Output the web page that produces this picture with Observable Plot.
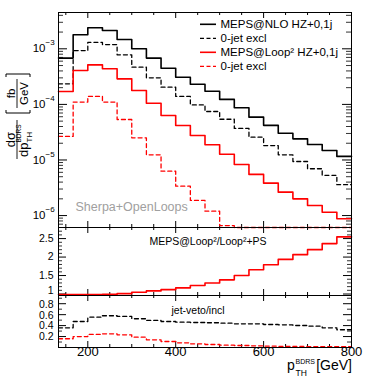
<!DOCTYPE html>
<html><head><meta charset="utf-8">
<script src="https://cdn.jsdelivr.net/npm/d3@7"></script>
<script src="https://cdn.jsdelivr.net/npm/@observablehq/plot@0.6"></script>
<style>
body{margin:0;background:#fff;}
#wrap{position:relative;width:391px;height:379px;overflow:hidden;font-family:"Liberation Sans",Arial,Helvetica,sans-serif;}
#wrap svg{position:absolute;left:0;}
</style></head><body><div id="wrap"></div>
<script>
// ---- data ----
const binEdges = [133.33,166.67,200,233.33,266.67,300,333.33,366.67,400,433.33,466.67,500,533.33,566.67,600,633.33,666.67,700,733.33,766.67,800];
const mepsNLO   = [6.8e-4,1.79e-3,2.39e-3,2.13e-3,1.47e-3,1.0e-3,6.8e-4,4.48e-4,3.08e-4,2.3e-4,1.72e-4,1.23e-4,8.7e-5,5.9e-5,4.2e-5,3.03e-5,2.4e-5,1.9e-5,1.48e-5,1.16e-5];
const nloVeto   = [2.34e-4,9.3e-4,1.31e-3,1.19e-3,7.8e-4,4.67e-4,3.0e-4,2.04e-4,1.39e-4,9.8e-5,7.45e-5,5.4e-5,3.69e-5,2.57e-5,1.82e-5,1.24e-5,9.4e-6,6.95e-6,5.3e-6,3.6e-6];
const mepsLoop2 = [1.71e-4,4.07e-4,5.15e-4,4.37e-4,2.88e-4,1.78e-4,1.05e-4,6.3e-5,4.18e-5,2.76e-5,1.88e-5,1.27e-5,8.3e-6,5.5e-6,3.83e-6,2.64e-6,2.0e-6,1.52e-6,1.15e-6,8.75e-7];
const loop2Veto = [2.65e-5,1.1e-4,1.39e-4,1.1e-4,5.35e-5,2.5e-5,1.24e-5,6.3e-6,3.38e-6,1.87e-6,1.2e-6,6.6e-7,3.1e-7,1.7e-7,9e-8,5.3e-8,3.6e-8,2.4e-8,1.7e-8,1.2e-8];
const ratioLoop2PS = [0.985,0.985,0.985,0.99,1.01,1.046,1.084,1.12,1.166,1.23,1.30,1.384,1.50,1.657,1.793,1.937,2.065,2.20,2.365,2.545];
const vetoFracNLO   = [0.36,0.475,0.554,0.58,0.567,0.525,0.494,0.475,0.463,0.457,0.452,0.444,0.433,0.433,0.42,0.415,0.402,0.39,0.36,0.324];
const vetoFracLoop2 = [0.16,0.20,0.238,0.25,0.232,0.188,0.14,0.11,0.086,0.068,0.055,0.042,0.037,0.031,0.024,0.02,0.018,0.016,0.015,0.014];
const xTicks = [200,400,600,800];
const xTickLabels = ["200","400","600","800"];
const logTicks = [1e-6,1e-5,1e-4,1e-3];
const logTickExp = ["\u22126","\u22125","\u22124","\u22123"];
const midTicks = [1,1.5,2,2.5];
const midTickLabels = ["1","1.5","2","2.5"];
const botTicks = [0.2,0.4,0.6,0.8];
const botTickLabels = ["0.2","0.4","0.6","0.8"];
const legendLabels = ["MEPS@NLO HZ+0,1j","0-jet excl","MEPS@Loop\u00B2 HZ+0,1j","0-jet excl"];
const legendColors = ["black","black","red","red"];
const legendDashed = [false,true,false,true];

// ---- layout ----
const W = 391, ML = 58, MR = 40, PW = W - ML - MR;
const FONT = '"Liberation Sans", Arial, Helvetica, sans-serif';
const xDomain = [binEdges[0], binEdges[binEdges.length-1]];
const wrap = document.getElementById("wrap");

function steps(vals){ return binEdges.map((x,i)=>({x, y: vals[Math.min(i, vals.length-1)]})); }
function histLine(vals, color, dashed){
  return Plot.line(steps(vals), {x:"x", y:"y", curve:"step-after", stroke:color,
    strokeWidth: dashed ? 1.3 : 1.6, strokeDasharray: dashed ? "4,3" : null});
}
const xMinor = d3.range(150, 800, 50).filter(v => !xTicks.includes(v));
function xTickMarks(PH){
  return [
    Plot.tickX(xTicks, {x: d => d, insetTop: PH-6, stroke:"black"}),
    Plot.tickX(xTicks, {x: d => d, insetBottom: PH-6, stroke:"black"}),
    Plot.tickX(xMinor, {x: d => d, insetTop: PH-3, stroke:"black"}),
    Plot.tickX(xMinor, {x: d => d, insetBottom: PH-3, stroke:"black"})
  ];
}
function yTickMarks(major, minor, lMaj, lMin){
  return [
    Plot.tickY(major, {y: d => d, insetRight: PW-lMaj, stroke:"black"}),
    Plot.tickY(major, {y: d => d, insetLeft: PW-lMaj, stroke:"black"}),
    Plot.tickY(minor, {y: d => d, insetRight: PW-lMin, stroke:"#333"}),
    Plot.tickY(minor, {y: d => d, insetLeft: PW-lMin, stroke:"#333"})
  ];
}
function place(svg, top){ svg.style.top = top + "px"; wrap.appendChild(svg); }
const style = {background:"transparent", fontFamily: FONT, overflow:"visible"};

// ---- main panel ----
const yDomMain = [6.1e-7, 4.5e-3];
const logMinor = d3.scaleLog().domain(yDomMain).ticks().filter(v => !logTicks.some(t => Math.abs(t-v)/t < 1e-6));
const mainH = 232, mainPH = 215;
const main = Plot.plot({
  width: W, height: mainH, marginLeft: ML, marginRight: MR, marginTop: 12, marginBottom: 5,
  style,
  x: {domain: xDomain, axis: null},
  y: {type: "log", domain: yDomMain, clamp: true, axis: null},
  marks: [
    ...yTickMarks(logTicks, logMinor, 9, 5),
    ...xTickMarks(mainPH),
    histLine(mepsNLO, "black", false),
    histLine(nloVeto, "black", true),
    histLine(mepsLoop2, "#ff0000", false),
    histLine(loop2Veto, "#ff0000", true),
    Plot.text(logTicks, {y: d => d, text: () => "10", frameAnchor: "left", textAnchor: "end", dx: -13, fontSize: 11.5, fill: "black"}),
    Plot.text(logTicks, {y: d => d, text: (d,i) => logTickExp[i], frameAnchor: "left", textAnchor: "start", dx: -13, dy: -6, fontSize: 8, fill: "black"}),
    Plot.text(["Sherpa+OpenLoops"], {frameAnchor: "bottom-left", textAnchor: "start", dx: 17, dy: -17, fontSize: 12.5, fill: "#a0a0a0"}),
    Plot.frame({stroke: "black", strokeWidth: 1})
  ]
});
place(main, 0);

// ---- ratio panel ----
const midH = 78, midPH = 68;
const midMinor = d3.range(1, 2.8, 0.1).map(v => +v.toFixed(2)).filter(v => !midTicks.includes(v));
const mid = Plot.plot({
  width: W, height: midH, marginLeft: ML, marginRight: MR, marginTop: 5, marginBottom: 5,
  style,
  x: {domain: xDomain, axis: null},
  y: {domain: [0.96, 2.8], axis: null},
  marks: [
    ...yTickMarks(midTicks, midMinor, 8, 4),
    ...xTickMarks(midPH),
    histLine(ratioLoop2PS, "#ff0000", false),
    Plot.text(midTicks.slice(1), {y: d => d, text: (d,i) => midTickLabels[i+1], frameAnchor: "left", textAnchor: "end", dx: -5, fontSize: 10.5, fill: "black"}),
    Plot.text(midTicks.slice(0,1), {y: d => d, text: () => midTickLabels[0], frameAnchor: "left", textAnchor: "end", dx: -5, dy: -3, fontSize: 10.5, fill: "black"}),
    Plot.text(["MEPS@Loop\u00B2/Loop\u00B2+PS"], {frameAnchor: "top", dx: 3, dy: 10, fontSize: 10.5, fill: "black"}),
    Plot.frame({stroke: "black", strokeWidth: 1})
  ]
});
place(mid, 222);

// ---- jet-veto panel ----
const botH = 89, botPH = 52;
const botMinor = d3.range(0.1, 0.95, 0.1).map(v => +v.toFixed(2)).filter(v => !botTicks.includes(v));
const bot = Plot.plot({
  width: W, height: botH, marginLeft: ML, marginRight: MR, marginTop: 5, marginBottom: 32,
  style,
  x: {domain: xDomain, axis: null},
  y: {domain: [0, 0.95], axis: null},
  marks: [
    ...yTickMarks(botTicks, botMinor, 8, 4),
    ...xTickMarks(botPH),
    histLine(vetoFracNLO, "black", true),
    histLine(vetoFracLoop2, "#ff0000", true),
    Plot.text(botTicks, {y: d => d, text: (d,i) => botTickLabels[i], frameAnchor: "left", textAnchor: "end", dx: -5, dy: 0.5, fontSize: 10.5, fill: "black"}),
    Plot.text(["jet-veto/incl"], {frameAnchor: "top", dx: -7, dy: 11.5, fontSize: 10.5, fill: "black"}),
    Plot.text(xTicks, {x: d => d, text: (d,i) => xTickLabels[i], frameAnchor: "bottom", dy: 8, fontSize: 13, fill: "black"}),
    Plot.frame({stroke: "black", strokeWidth: 1})
  ]
});
place(bot, 290);

// ---- overlay: legend and axis titles ----
const ov = d3.select(wrap).append("svg").attr("width", W).attr("height", 379)
  .style("top", "0px").style("font-family", FONT).style("pointer-events", "none");

legendLabels.forEach((lab, i) => {
  const y = 24.3 + i * 14;
  ov.append("line").attr("x1", 200).attr("x2", 216).attr("y1", y).attr("y2", y)
    .attr("stroke", legendColors[i]).attr("stroke-width", legendDashed[i] ? 1.3 : 1.6)
    .attr("stroke-dasharray", legendDashed[i] ? "4,2.5" : null);
  ov.append("text").attr("x", 220.5).attr("y", y).attr("dy", "0.35em")
    .attr("font-size", 11.5).attr("fill", "black").text(lab);
});

// x title
ov.append("text").attr("x", 287).attr("y", 369.5).attr("font-size", 14).text("p");
ov.append("text").attr("x", 295.5).attr("y", 363.5).attr("font-size", 7).text("BDRS");
ov.append("text").attr("x", 295.5).attr("y", 375.5).attr("font-size", 8.5).text("TH");
ov.append("text").attr("x", 352).attr("y", 369.5).attr("font-size", 14).attr("text-anchor", "end").text("[GeV]");

// y title (rotated)
const g = ov.append("g").attr("transform", "translate(17,117) rotate(-90)");
g.append("line").attr("x1", -42).attr("x2", -3).attr("y1", 0).attr("y2", 0).attr("stroke", "black").attr("stroke-width", 0.9);
g.append("text").attr("x", -22.5).attr("y", -2.5).attr("font-size", 13).attr("text-anchor", "middle").text("d\u03C3");
g.append("text").attr("x", -40).attr("y", 10.5).attr("font-size", 13).text("dp");
g.append("text").attr("x", -25.5).attr("y", 3.5).attr("font-size", 6.5).text("BDRS");
g.append("text").attr("x", -25.5).attr("y", 14.5).attr("font-size", 8).text("TH");
g.append("line").attr("x1", 9).attr("x2", 38).attr("y1", 0).attr("y2", 0).attr("stroke", "black").attr("stroke-width", 0.9);
g.append("text").attr("x", 23.5).attr("y", -2.5).attr("font-size", 11.5).attr("text-anchor", "middle").text("fb");
g.append("text").attr("x", 23.5).attr("y", 10.5).attr("font-size", 11.5).attr("text-anchor", "middle").text("GeV");
g.append("path").attr("d", "M7,-11 L4,-11 L4,13 L7,13").attr("fill", "none").attr("stroke", "black").attr("stroke-width", 1);
g.append("path").attr("d", "M40,-11 L43,-11 L43,13 L40,13").attr("fill", "none").attr("stroke", "black").attr("stroke-width", 1);
</script>
</body></html>
